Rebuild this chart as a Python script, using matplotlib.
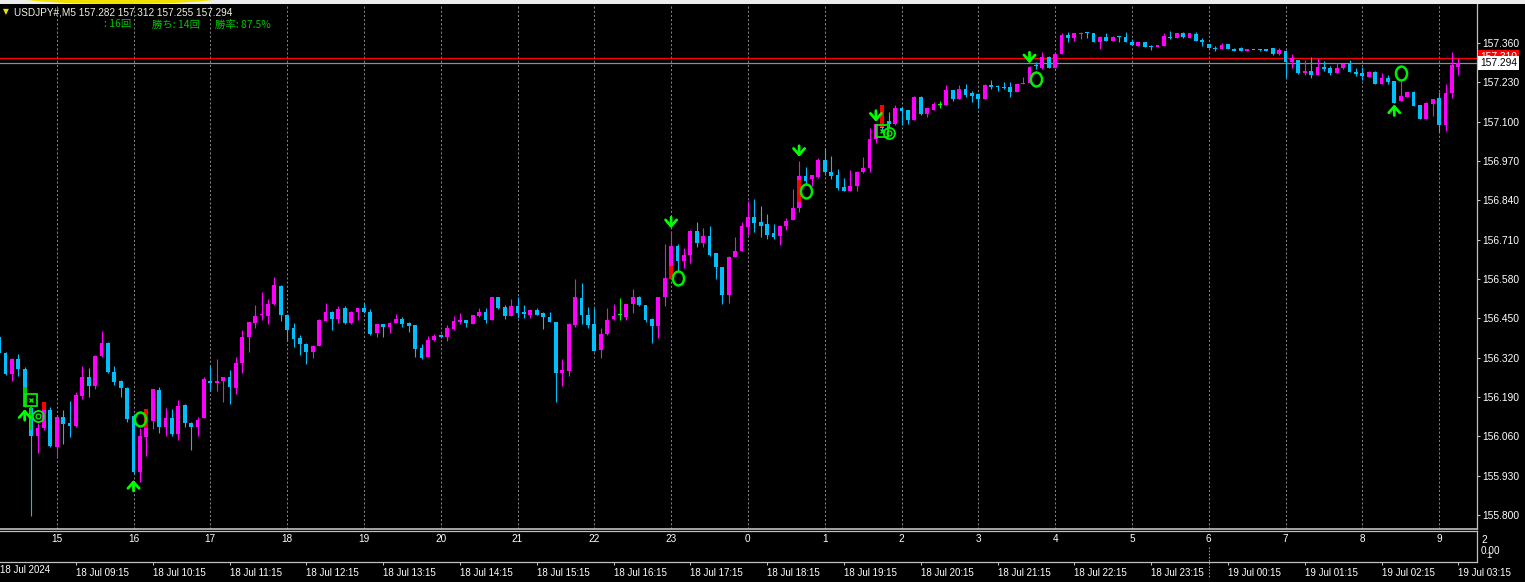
import matplotlib.pyplot as plt
from matplotlib.path import Path
from matplotlib.patches import Ellipse, Rectangle
from matplotlib.transforms import Affine2D, blended_transform_factory

# ---- USDJPY M5 bars (18 Jul 08:15 -> 19 Jul 03:15) ----
opens = [
    156.390, 156.336, 156.265, 156.317, 156.283, 156.153, 156.061, 156.087, 156.147, 156.026,
    156.124, 156.105, 156.094, 156.194, 156.255, 156.227, 156.325, 156.368, 156.274, 156.243,
    156.219, 156.127, 155.943, 156.059, 156.111, 156.213, 156.092, 156.120, 156.068, 156.164,
    156.105, 156.092, 156.122, 156.244, 156.237, 156.243, 156.255, 156.219, 156.302, 156.387,
    156.434, 156.460, 156.459, 156.496, 156.557, 156.461, 156.417, 156.386, 156.365, 156.340,
    156.360, 156.442, 156.472, 156.447, 156.483, 156.434, 156.470, 156.483, 156.472, 156.401,
    156.431, 156.421, 156.436, 156.447, 156.434, 156.428, 156.351, 156.321, 156.377, 156.395,
    156.388, 156.414, 156.437, 156.445, 156.431, 156.459, 156.471, 156.445, 156.520, 156.487,
    156.459, 156.492, 156.470, 156.461, 156.478, 156.467, 156.456, 156.437, 156.270, 156.276,
    156.428, 156.516, 156.461, 156.431, 156.345, 156.397, 156.447, 156.461, 156.456, 156.498,
    156.520, 156.494, 156.448, 156.425, 156.520, 156.582, 156.689, 156.640, 156.660, 156.740,
    156.700, 156.722, 156.665, 156.619, 156.527, 156.654, 156.674, 156.753, 156.784, 156.767,
    156.761, 156.731, 156.723, 156.756, 156.775, 156.814, 156.921, 156.910, 156.918, 156.973,
    156.935, 156.924, 156.885, 156.872, 156.887, 156.933, 156.946, 157.043, 157.091, 157.102,
    157.092, 157.146, 157.139, 157.106, 157.183, 157.124, 157.139, 157.155, 157.155, 157.205,
    157.175, 157.208, 157.194, 157.191, 157.175, 157.221, 157.218, 157.216, 157.216, 157.199,
    157.224, 157.229, 157.289, 157.276, 157.315, 157.278, 157.324, 157.386, 157.378, 157.391,
    157.397, 157.392, 157.362, 157.381, 157.368, 157.381, 157.381, 157.364, 157.351, 157.362,
    157.351, 157.348, 157.351, 157.381, 157.378, 157.394, 157.378, 157.389, 157.370, 157.357,
    157.343, 157.340, 157.357, 157.340, 157.344, 157.335, 157.337, 157.339, 157.339, 157.344,
    157.323, 157.334, 157.298, 157.304, 157.260, 157.267, 157.254, 157.282, 157.276, 157.262,
    157.276, 157.291, 157.263, 157.260, 157.249, 157.265, 157.225, 157.245, 157.234, 157.168,
    157.183, 157.199, 157.155, 157.109, 157.158, 157.177, 157.089, 157.194, 157.282,
]
highs = [
    156.395, 156.338, 156.318, 156.332, 156.288, 156.160, 156.104, 156.174, 156.158, 156.127,
    156.147, 156.177, 156.207, 156.292, 156.287, 156.330, 156.408, 156.371, 156.294, 156.246,
    156.224, 156.134, 156.087, 156.150, 156.216, 156.222, 156.155, 156.150, 156.180, 156.167,
    156.107, 156.125, 156.255, 156.292, 156.315, 156.257, 156.279, 156.323, 156.411, 156.438,
    156.494, 156.538, 156.513, 156.588, 156.560, 156.464, 156.436, 156.395, 156.368, 156.362,
    156.448, 156.502, 156.474, 156.491, 156.491, 156.474, 156.484, 156.500, 156.481, 156.432,
    156.433, 156.438, 156.464, 156.456, 156.439, 156.428, 156.364, 156.392, 156.398, 156.400,
    156.428, 156.458, 156.467, 156.446, 156.462, 156.486, 156.486, 156.521, 156.522, 156.494,
    156.514, 156.522, 156.494, 156.479, 156.485, 156.470, 156.471, 156.438, 156.316, 156.432,
    156.579, 156.568, 156.489, 156.483, 156.417, 156.483, 156.496, 156.516, 156.499, 156.547,
    156.523, 156.495, 156.450, 156.521, 156.696, 156.740, 156.696, 156.682, 156.741, 156.768,
    156.748, 156.755, 156.667, 156.620, 156.655, 156.718, 156.769, 156.839, 156.845, 156.822,
    156.794, 156.762, 156.757, 156.783, 156.876, 156.971, 156.949, 156.925, 156.981, 157.012,
    156.987, 156.943, 156.913, 156.940, 156.936, 156.982, 157.078, 157.092, 157.155, 157.131,
    157.155, 157.147, 157.140, 157.184, 157.185, 157.145, 157.166, 157.168, 157.221, 157.206,
    157.221, 157.223, 157.201, 157.196, 157.223, 157.238, 157.222, 157.232, 157.230, 157.226,
    157.247, 157.285, 157.297, 157.329, 157.316, 157.330, 157.392, 157.397, 157.393, 157.398,
    157.398, 157.393, 157.382, 157.392, 157.382, 157.383, 157.397, 157.373, 157.365, 157.363,
    157.352, 157.354, 157.392, 157.400, 157.393, 157.395, 157.393, 157.397, 157.378, 157.358,
    157.350, 157.359, 157.358, 157.342, 157.346, 157.340, 157.338, 157.340, 157.340, 157.345,
    157.342, 157.336, 157.323, 157.305, 157.304, 157.315, 157.309, 157.301, 157.285, 157.295,
    157.292, 157.304, 157.276, 157.282, 157.267, 157.266, 157.260, 157.254, 157.235, 157.238,
    157.198, 157.200, 157.156, 157.164, 157.176, 157.199, 157.224, 157.331, 157.312,
]
lows = [
    156.332, 156.263, 156.243, 156.260, 156.157, 155.797, 156.006, 156.081, 156.025, 155.987,
    156.035, 156.059, 156.091, 156.184, 156.191, 156.216, 156.322, 156.269, 156.230, 156.191,
    156.108, 155.938, 155.910, 155.996, 156.084, 156.072, 156.061, 156.061, 156.048, 156.090,
    156.015, 156.061, 156.121, 156.210, 156.210, 156.175, 156.167, 156.200, 156.270, 156.340,
    156.417, 156.445, 156.430, 156.494, 156.441, 156.379, 156.356, 156.329, 156.298, 156.318,
    156.359, 156.441, 156.412, 156.434, 156.431, 156.431, 156.445, 156.468, 156.395, 156.390,
    156.390, 156.401, 156.435, 156.422, 156.405, 156.323, 156.316, 156.321, 156.376, 156.385,
    156.376, 156.412, 156.431, 156.421, 156.430, 156.455, 156.436, 156.444, 156.480, 156.447,
    156.458, 156.451, 156.451, 156.452, 156.460, 156.414, 156.438, 156.175, 156.227, 156.261,
    156.422, 156.431, 156.417, 156.342, 156.318, 156.396, 156.446, 156.445, 156.445, 156.467,
    156.490, 156.437, 156.370, 156.386, 156.491, 156.580, 156.605, 156.616, 156.632, 156.687,
    156.687, 156.657, 156.579, 156.496, 156.500, 156.653, 156.673, 156.725, 156.734, 156.720,
    156.714, 156.714, 156.692, 156.742, 156.774, 156.803, 156.891, 156.887, 156.913, 156.924,
    156.910, 156.874, 156.871, 156.871, 156.872, 156.932, 156.935, 157.029, 157.069, 157.079,
    157.089, 157.089, 157.092, 157.105, 157.123, 157.114, 157.138, 157.144, 157.154, 157.168,
    157.174, 157.183, 157.166, 157.144, 157.174, 157.208, 157.203, 157.209, 157.182, 157.198,
    157.224, 157.228, 157.274, 157.275, 157.277, 157.277, 157.323, 157.362, 157.367, 157.373,
    157.378, 157.363, 157.340, 157.366, 157.367, 157.364, 157.363, 157.352, 157.350, 157.347,
    157.337, 157.347, 157.350, 157.372, 157.377, 157.376, 157.377, 157.366, 157.351, 157.343,
    157.335, 157.339, 157.339, 157.334, 157.334, 157.334, 157.336, 157.335, 157.333, 157.322,
    157.322, 157.243, 157.276, 157.259, 157.254, 157.243, 157.253, 157.268, 157.256, 157.261,
    157.275, 157.264, 157.251, 157.238, 157.248, 157.224, 157.224, 157.223, 157.162, 157.167,
    157.182, 157.151, 157.108, 157.108, 157.120, 157.065, 157.069, 157.179, 157.255,
]
closes = [
    156.336, 156.265, 156.315, 156.282, 156.158, 156.061, 156.087, 156.147, 156.028, 156.124,
    156.100, 156.094, 156.196, 156.257, 156.227, 156.326, 156.368, 156.274, 156.241, 156.219,
    156.119, 155.943, 156.061, 156.114, 156.216, 156.092, 156.120, 156.068, 156.160, 156.103,
    156.092, 156.114, 156.250, 156.235, 156.244, 156.255, 156.222, 156.304, 156.387, 156.437,
    156.458, 156.463, 156.497, 156.560, 156.461, 156.412, 156.382, 156.365, 156.340, 156.360,
    156.445, 156.472, 156.448, 156.481, 156.434, 156.472, 156.483, 156.470, 156.397, 156.431,
    156.421, 156.436, 156.447, 156.431, 156.425, 156.349, 156.318, 156.379, 156.393, 156.390,
    156.418, 156.441, 156.445, 156.434, 156.461, 156.471, 156.445, 156.520, 156.484, 156.459,
    156.492, 156.467, 156.464, 156.478, 156.461, 156.454, 156.439, 156.270, 156.279, 156.431,
    156.520, 156.461, 156.428, 156.343, 156.398, 156.445, 156.459, 156.461, 156.498, 156.520,
    156.494, 156.445, 156.425, 156.520, 156.582, 156.689, 156.640, 156.660, 156.740, 156.700,
    156.722, 156.660, 156.619, 156.527, 156.654, 156.673, 156.755, 156.784, 156.766, 156.755,
    156.725, 156.720, 156.756, 156.773, 156.816, 156.921, 156.905, 156.924, 156.973, 156.933,
    156.921, 156.880, 156.872, 156.887, 156.935, 156.948, 157.043, 157.091, 157.079, 157.091,
    157.144, 157.135, 157.106, 157.183, 157.124, 157.144, 157.157, 157.155, 157.205, 157.175,
    157.208, 157.188, 157.186, 157.175, 157.221, 157.215, 157.214, 157.212, 157.199, 157.224,
    157.227, 157.282, 157.285, 157.315, 157.278, 157.324, 157.386, 157.378, 157.392, 157.394,
    157.392, 157.364, 157.381, 157.367, 157.381, 157.379, 157.364, 157.353, 157.364, 157.348,
    157.348, 157.353, 157.384, 157.376, 157.392, 157.381, 157.392, 157.367, 157.364, 157.344,
    157.340, 157.353, 157.340, 157.335, 157.335, 157.339, 157.337, 157.336, 157.334, 157.323,
    157.337, 157.298, 157.309, 157.260, 157.267, 157.254, 157.282, 157.273, 157.262, 157.278,
    157.291, 157.265, 157.259, 157.252, 157.265, 157.225, 157.245, 157.232, 157.163, 157.186,
    157.197, 157.152, 157.109, 157.163, 157.175, 157.089, 157.194, 157.287, 157.294,
]

bid = 157.294
ask = 157.310
price_levels = [157.360, 157.230, 157.100, 156.970, 156.840, 156.710, 156.580,
                156.450, 156.320, 156.190, 156.060, 155.930, 155.800]
hour_labels = ['15', '16', '17', '18', '19', '20', '21', '22', '23', '0',
               '1', '2', '3', '4', '5', '6', '7', '8', '9']
first_hour_bar = 9
date_labels = ['18 Jul 09:15', '18 Jul 10:15', '18 Jul 11:15', '18 Jul 12:15',
               '18 Jul 13:15', '18 Jul 14:15', '18 Jul 15:15', '18 Jul 16:15',
               '18 Jul 17:15', '18 Jul 18:15', '18 Jul 19:15', '18 Jul 20:15',
               '18 Jul 21:15', '18 Jul 22:15', '18 Jul 23:15', '19 Jul 00:15',
               '19 Jul 01:15', '19 Jul 02:15', '19 Jul 03:15']
first_date_bar = 12
bars_per_hour = 12
separator_bar = 189

# signal arrows / exit marks
buy_idx = [4, 21, 218]
buy_tip = [156.150, 155.916, 157.157]
sell_idx = [105, 125, 137, 161]
sell_tip = [156.748, 156.984, 157.100, 157.293]
exit_idx = [22, 106, 126, 162, 219]
exit_price = [156.116, 156.584, 156.872, 157.240, 157.260]
dbl_idx = [6, 139]
dbl_price = [156.127, 157.062]
box_idx = [5, 138]
box_price = [156.180, 157.070]
red_idx = [7, 23, 105, 125, 138]
red_top = [156.174, 156.150, 156.623, 156.907, 157.155]
red_bot = [156.147, 156.088, 156.581, 156.836, 157.082]
green_idx = [4, 5]
green_top = [156.224, 156.157]
green_bot = [156.157, 156.081]
stats = [': 16回', '勝ち: 14回', '勝率: 87.5%']

# ---- figure ----
W, H = 1525, 582
UP, DOWN, DOJI = '#ff00ff', '#00bfff', '#00ff00'
SIG = '#00ee00'
FRAME = '#c0c0c0'
plt.rcParams['font.family'] = ['Liberation Sans', 'DejaVu Sans']

fig = plt.figure(figsize=(W / 100, H / 100), dpi=100, facecolor='black')
ax = fig.add_axes([0, 1 - 529 / H, 1477 / W, 525 / H], facecolor='black')
ax2 = fig.add_axes([0, 1 - 562 / H, 1477 / W, 31 / H], facecolor='black')

ax.set_xlim(0.14, 230.92)
ax.set_ylim(155.754, 157.489)
ax2.set_xlim(ax.get_xlim())
ax2.set_ylim(0, 1)
ppx = (157.489 - 155.754) / 525  # price per pixel

n = len(closes)
idx = list(range(n))
cols = [UP if c > o else DOWN if c < o else DOJI for o, c in zip(opens, closes)]

# hour grid
hour_idx = [first_hour_bar + bars_per_hour * j for j in range(len(hour_labels))]
ax.vlines(hour_idx, 155.754, 157.489, colors='#808080', lw=0.75,
          linestyles=(0, (2, 2)), zorder=1)

# candles
ax.vlines(idx, lows, highs, colors=cols, lw=0.8, zorder=2)
bottoms = [min(o, c) for o, c in zip(opens, closes)]
heights = [max(abs(c - o), ppx) for o, c in zip(opens, closes)]
ax.bar(idx, heights, bottom=bottoms, width=0.62, color=cols, lw=0, zorder=3)

# indicator overlays
for k, t, b in zip(red_idx, red_top, red_bot):
    ax.bar(k, t - b, bottom=b, width=0.62, color='#ff0000', lw=0, zorder=4)
ax.bar(green_idx[0], green_top[0] - green_bot[0], bottom=green_bot[0],
       width=0.62, color='#00cc00', lw=0, zorder=4)
ax.bar(green_idx[1], green_top[1] - green_bot[1], bottom=green_bot[1],
       width=0.3, color='#00cc00', lw=0, zorder=4)

# horizontal bid / ask lines
ax.axhline(ask, color='#ff0000', lw=0.9, zorder=1.5)
ax.axhline(bid, color='#8c8c8c', lw=0.9, zorder=1.5)

# arrows
astyle = '->,head_length=0.45,head_width=0.4'
for k, tip in zip(buy_idx, buy_tip):
    ax.annotate('', xy=(k, tip), xytext=(k, tip - 11 * ppx),
                arrowprops=dict(arrowstyle=astyle, color='#00ff00', lw=2,
                                shrinkA=0, shrinkB=0, mutation_scale=10), zorder=6)
for k, tip in zip(sell_idx, sell_tip):
    ax.annotate('', xy=(k, tip), xytext=(k, tip + 11 * ppx),
                arrowprops=dict(arrowstyle=astyle, color='#00ff00', lw=2,
                                shrinkA=0, shrinkB=0, mutation_scale=10), zorder=6)

ring = Path.unit_circle().transformed(Affine2D().scale(0.8, 1.0))
ax.plot(exit_idx, exit_price, ls='none', marker=ring, ms=10, mfc='none',
        mec=SIG, mew=1.8, zorder=6)
ax.plot(dbl_idx, dbl_price, ls='none', marker='o', ms=8, mfc='none',
        mec=SIG, mew=1.3, zorder=6)
ax.plot(dbl_idx, dbl_price, ls='none', marker='o', ms=3.5, mfc='none',
        mec=SIG, mew=1.0, zorder=6)
ax.plot(box_idx, box_price, ls='none', marker='s', ms=8, mfc='none',
        mec=SIG, mew=1.3, zorder=6)
ax.plot(box_idx, box_price, ls='none', marker='x', ms=3.5, mec=SIG, mew=1, zorder=6)

# right price scale
ax.yaxis.tick_right()
ax.set_yticks(price_levels)
ax.set_yticklabels([f'{p:.3f}' for p in price_levels])
ax.tick_params(axis='y', length=2.5, width=0.75, color=FRAME, labelcolor='white',
               labelsize=7.4, pad=1.5)
ax.set_xticks([])
for s in ['left', 'top']:
    ax.spines[s].set_visible(False)
ax.spines['right'].set_color(FRAME)
ax.spines['bottom'].set_color(FRAME)
ax.spines['right'].set_linewidth(0.9)
ax.spines['bottom'].set_linewidth(1.2)

ax.text(1.002, ask + 1.5 * ppx, f'{ask:.3f}', transform=ax.get_yaxis_transform(),
        color='white', fontsize=7.4, va='center', ha='left', clip_on=False,
        bbox=dict(boxstyle='square,pad=0.18', fc='#ff0000', ec='none'), zorder=7)
ax.text(1.002, bid, f'{bid:.3f}', transform=ax.get_yaxis_transform(),
        color='black', fontsize=7.4, va='center', ha='left', clip_on=False,
        bbox=dict(boxstyle='square,pad=0.18', fc='white', ec='none'), zorder=8)

# sub window: hour numbers + date axis
bt = blended_transform_factory(ax2.transData, ax2.transAxes)
for k, lbl in zip(hour_idx, hour_labels):
    ax2.text(k, 0.74, lbl, transform=bt, color='white', fontsize=7.2,
             ha='center', va='center')
ax2.plot([separator_bar, separator_bar], [0.5, -0.5], transform=bt, color='#9a9a9a',
         lw=0.75, ls=(0, (1.5, 1.5)), clip_on=False)
date_idx = [first_date_bar + bars_per_hour * j for j in range(len(date_labels))]
ax2.set_xticks(date_idx)
ax2.set_xticklabels(date_labels)
for lbl in ax2.get_xticklabels():
    lbl.set_ha('left')
ax2.tick_params(axis='x', direction='out', length=2.5, width=0.75, color=FRAME,
                labelcolor='white', labelsize=7.0, pad=1.5)
ax2.set_yticks([])
ax2.spines['left'].set_visible(False)
for s in ['top', 'bottom', 'right']:
    ax2.spines[s].set_color(FRAME)
    ax2.spines[s].set_linewidth(0.9)

fig.text(1481 / W, 1 - 540 / H, '2', color='white', fontsize=7.2, va='center')
fig.text(1481 / W, 1 - 551 / H, '0.00', color='white', fontsize=7.2, va='center')
fig.text(1486 / W, 1 - 556 / H, '1', color='white', fontsize=6.8, va='center')
fig.text(0, 1 - 570 / H, '18 Jul 2024', color='white', fontsize=7.0, va='center')

# header
fig.patches.append(Rectangle((0, 1 - 3.5 / H), 1, 3.5 / H, transform=fig.transFigure,
                             fc='#ececec', ec='none'))
fig.patches.append(Ellipse((120 / W, 1 + 3 / H), 205 / W, 14 / H,
                           transform=fig.transFigure, fc='#f0e000', ec='none'))
fig.text(3 / W, 1 - 12 / H, '▼', color='#f0e000', fontsize=5.5, va='center',
         family='DejaVu Sans')
fig.text(14 / W, 1 - 12.5 / H,
         f'USDJPY#,M5 {opens[-1]:.3f} {highs[-1]:.3f} {lows[-1]:.3f} {closes[-1]:.3f}',
         color='#f2f2e4', fontsize=7.2, va='center')
for xp, s in zip([104, 152, 215], stats):
    fig.text(xp / W, 1 - 24.5 / H, s, color='#00c400', fontsize=7.5, va='center',
             family=['Noto Sans CJK JP', 'DejaVu Sans'])

fig.savefig('out.png', dpi=100, facecolor='black')
